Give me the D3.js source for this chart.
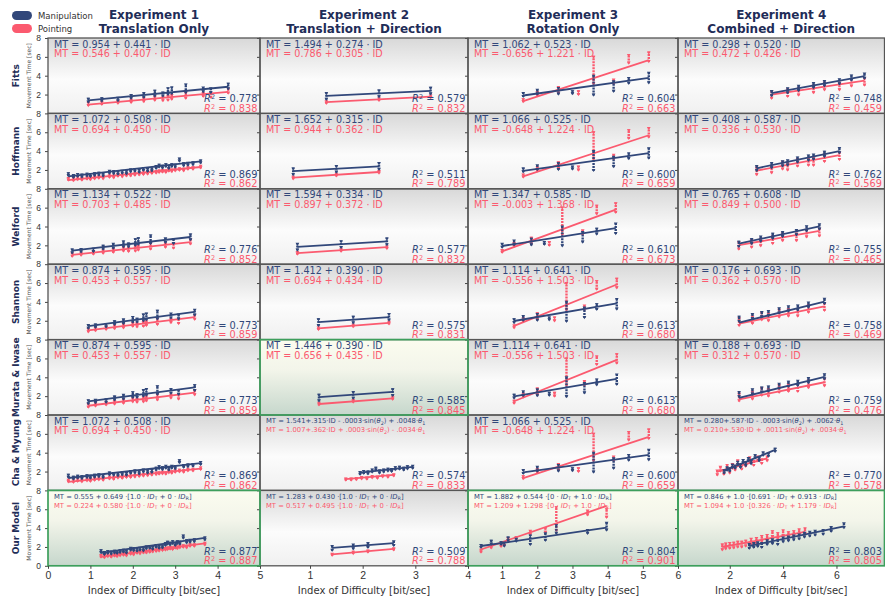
<!DOCTYPE html>
<html>
<head>
<meta charset="utf-8">
<script src="https://cdn.jsdelivr.net/npm/d3@7"></script>
<style>
  body { margin: 0; background: #fff; }
  svg { font-family: "DejaVu Sans", sans-serif; }
</style>
</head>
<body>
<div id="chart"></div>
<script>
// ---------- data ----------
const expTitles = ["Experiment 1", "Experiment 2", "Experiment 3", "Experiment 4"];
const expSubtitles = ["Translation Only", "Translation + Direction", "Rotation Only", "Combined + Direction"];
const models = ["Fitts", "Hoffmann", "Welford", "Shannon", "Murata & Iwase", "Cha & Myung", "Our Model"];
const seriesNames = ["Manipulation", "Pointing"];

const xDomains = [[0, 5], [0.05, 4], [0.03, 6], [0.06, 7.8]];
const xTicks = [[0, 1, 2, 3, 4, 5], [1, 2, 3, 4], [1, 2, 3, 4, 5, 6], [2, 4, 6]];
const yTicks = [2, 4, 6, 8];

// Experiment 1 (13 amplitude/width groups)
const e1Manip = [1.40, 1.48, 1.52, 1.80, 1.95, 2.15, 2.05, 2.35, 2.45, 2.65, 2.55, 2.45, 2.90];
const e1Point = [1.00, 1.10, 1.22, 1.33, 1.45, 1.60, 1.55, 1.65, 1.75, 1.90, 2.00, 1.95, 2.40];
const e1ManipSd = [0.15, 0.12, 0.12, 0.15, 0.2, 0.25, 0.15, 0.3, 0.3, 0.4, 0.2, 0.2, 0.25];
const e1PointSd = [0.12, 0.1, 0.1, 0.12, 0.15, 0.15, 0.15, 0.2, 0.2, 0.25, 0.15, 0.2, 0.2];
const fittsE1Id = [0.95, 1.27, 1.65, 1.96, 2.26, 2.52, 2.71, 2.83, 2.92, 3.25, 3.66, 3.84, 4.25];
const welfordE1Id = [0.57, 0.78, 1.07, 1.3, 1.54, 1.78, 1.9, 2.06, 2.13, 2.42, 2.77, 2.96, 3.36];
const shannonE1Id = [0.95, 1.12, 1.37, 1.57, 1.78, 2.0, 2.1, 2.25, 2.32, 2.58, 2.9, 3.08, 3.46];

// Experiment 1 with direction-dependent IDs (32 conditions)
const hoffE1Id = [0.48, 0.6, 0.7, 0.8, 0.92, 1.0, 1.1, 1.2, 1.3, 1.45, 1.55, 1.65, 1.75, 1.85, 1.95, 2.05,
  2.15, 2.25, 2.35, 2.45, 2.55, 2.62, 2.7, 2.78, 2.85, 2.92, 3.0, 3.1, 3.2, 3.3, 3.42, 3.6];
const ourE1Id = [1.25, 1.33, 1.41, 1.49, 1.57, 1.63, 1.7, 1.78, 1.85, 1.95, 2.02, 2.1, 2.17, 2.25, 2.32, 2.4,
  2.47, 2.55, 2.62, 2.7, 2.77, 2.82, 2.88, 2.94, 3.0, 3.05, 3.11, 3.19, 3.27, 3.35, 3.45, 3.7];
const hoffE1Manip = [1.55, 1.35, 1.45, 1.4, 1.5, 1.45, 1.55, 1.6, 1.5, 1.8, 1.75, 1.7, 1.8, 1.75, 1.95, 2.0,
  1.9, 2.1, 2.0, 2.05, 2.3, 2.45, 2.35, 2.5, 2.3, 2.5, 2.45, 3.1, 2.6, 2.65, 2.7, 2.9];
const hoffE1Point = [1.05, 1.0, 1.1, 1.05, 1.15, 1.1, 1.2, 1.25, 1.2, 1.35, 1.3, 1.45, 1.4, 1.5, 1.5, 1.55,
  1.6, 1.65, 1.7, 1.75, 1.8, 1.85, 1.9, 1.85, 2.0, 1.95, 2.05, 2.1, 2.05, 2.2, 2.2, 2.35];

// Experiment 2
const e2Manip = [1.85, 2.12, 2.42];
const e2Point = [1.2, 1.5, 1.8];
const fittsE2Id = [1.31, 2.31, 3.29];
const hoffE2Id = [0.68, 1.5, 2.31];
const welfordE2Id = [0.76, 1.59, 2.46];
const shannonE2Id = [1.16, 1.82, 2.5];
const murataE2Id = [1.17, 1.82, 2.57];
const ourE2Id = [1.42, 1.82, 2.1, 2.59];
const ourE2Manip = [1.9, 2.05, 2.2, 2.4];
const ourE2Point = [1.22, 1.42, 1.56, 1.8];
const chaE2ManipId = [1.95, 2.02, 2.1, 2.18, 2.25, 2.32, 2.4, 2.48, 2.55, 2.62, 2.7, 2.78, 2.85, 2.95];
const chaE2Manip = [1.85, 1.95, 1.9, 2.1, 2.3, 2.0, 2.1, 2.2, 2.15, 2.35, 2.4, 2.3, 2.45, 2.5];
const chaE2PointId = [1.68, 1.78, 1.88, 1.98, 2.08, 2.18, 2.28, 2.38, 2.48, 2.59];
const chaE2Point = [1.2, 1.2, 1.25, 1.35, 1.3, 1.45, 1.4, 1.55, 1.5, 1.65];

// Experiment 3
const e3Manip = [2.0, 2.3, 2.4, 2.25, 3.0, 2.9, 3.5, 3.8];
const e3ManipSd = [0.15, 0.2, 0.3, 0.1, 1.0, 0.5, 0.25, 0.5];
const e3Point = [1.4, 2.1, 2.5, 2.2, 4.6, 3.4, 5.8, 6.0];
const e3PointSd = [0.1, 0.15, 0.3, 0.15, 1.4, 0.2, 0.4, 0.45];
const fittsE3ManipId = [1.6, 2.0, 2.6, 3.0, 3.6, 4.17, 4.6, 5.17];
const fittsE3PointId = [1.6, 2.0, 2.6, 3.17, 3.6, 4.17, 4.6, 5.17];
const welfordE3ManipId = [1.0, 1.34, 1.83, 2.2, 2.71, 3.29, 3.69, 4.23];
const welfordE3PointId = [1.0, 1.34, 1.83, 2.34, 2.71, 3.29, 3.69, 4.23];
const shannonE3ManipId = [1.34, 1.6, 2.0, 2.34, 2.83, 3.34, 3.69, 4.26];
const shannonE3PointId = [1.34, 1.6, 2.0, 2.49, 2.83, 3.34, 3.69, 4.26];
const ourE3Id = [0.4, 0.69, 0.97, 1.06, 1.17, 1.4, 1.8, 2.23, 2.54, 3.43, 3.97];
const ourE3Manip = [2.1, 2.5, 2.4, 2.3, 2.85, 2.75, 2.75, 3.1, 3.9, 3.65, 4.2];
const ourE3ManipSd = [0.1, 0.15, 0.1, 0.15, 0.15, 0.1, 0.45, 0.35, 0.4, 0.15, 0.35];
const ourE3Point = [1.6, 2.05, 2.2, 2.3, 2.85, 2.95, 3.55, 3.8, 5.0, 5.65, 5.6];
const ourE3PointSd = [0.1, 0.1, 0.1, 0.1, 0.1, 0.1, 0.15, 0.2, 1.2, 0.2, 0.4];

// Experiment 4
const e4Manip8 = [2.15, 2.45, 2.7, 3.0, 3.2, 3.4, 3.8, 4.0];
const e4Point8 = [2.0, 2.2, 2.35, 2.6, 2.9, 2.9, 3.3, 3.4];
const e4Manip9 = [2.2, 2.5, 2.7, 2.8, 3.1, 3.3, 3.4, 3.7, 4.1];
const e4Point9 = [1.9, 2.1, 2.5, 2.4, 2.8, 2.9, 2.9, 3.3, 3.5];
const fittsE4Id = [3.57, 4.17, 4.58, 5.14, 5.55, 6.11, 6.56, 7.05];
const welfordE4Id = [2.34, 2.82, 3.16, 3.61, 3.98, 4.5, 4.88, 5.36];
const hoffE4Id = [3.01, 3.57, 3.98, 4.17, 4.54, 4.95, 5.14, 5.55, 6.11];
const shannonE4Id = [2.35, 2.85, 3.2, 3.45, 3.85, 4.2, 4.55, 4.95, 5.55];
const chaE4ManipId = [1.79, 1.9, 2.0, 2.1, 2.2, 2.3, 2.4, 2.5, 2.6, 2.7, 2.8, 2.95, 3.1, 3.25, 3.45, 3.7];
const chaE4Manip = [2.0, 2.3, 2.2, 2.6, 2.5, 2.9, 2.6, 3.1, 2.8, 3.3, 3.0, 3.6, 3.3, 3.9, 3.8, 4.3];
const chaE4PointId = [1.53, 1.65, 1.78, 1.9, 2.0, 2.1, 2.2, 2.3, 2.45, 2.6, 2.75, 2.9, 3.05, 3.2, 3.4];
const chaE4Point = [1.9, 2.3, 1.95, 2.5, 2.1, 2.6, 2.4, 3.0, 2.5, 2.8, 3.3, 2.9, 3.4, 3.1, 3.4];
const ourE4ManipId = [2.73, 2.9, 3.05, 3.2, 3.4, 3.6, 3.8, 4.0, 4.2, 4.4, 4.6, 4.8, 5.0, 5.2, 5.5, 5.8, 6.28];
const ourE4Manip = [2.1, 2.2, 2.3, 2.2, 2.5, 2.6, 2.5, 2.8, 2.9, 3.0, 3.1, 3.3, 3.4, 3.5, 3.6, 3.9, 4.3];
const ourE4PointId = [1.72, 1.85, 2.0, 2.15, 2.3, 2.45, 2.6, 2.8, 3.0, 3.2, 3.4, 3.6, 3.8, 4.0, 4.2, 4.4, 4.6, 4.82];
const ourE4Point = [2.0, 2.1, 2.15, 2.2, 2.3, 2.3, 2.4, 2.6, 2.7, 2.9, 3.0, 3.4, 3.2, 3.5, 3.3, 3.4, 3.6, 3.7];

// fitted lines [intercept, slope] as drawn in each panel (rows = models, cols = experiments)
const fitManip = [
  [[0.954, 0.441], [1.494, 0.274], [1.062, 0.523], [0.298, 0.520]],
  [[1.072, 0.508], [1.652, 0.315], [1.066, 0.525], [0.408, 0.587]],
  [[1.134, 0.522], [1.594, 0.334], [1.347, 0.585], [0.765, 0.608]],
  [[0.874, 0.595], [1.412, 0.390], [1.114, 0.641], [0.176, 0.693]],
  [[0.874, 0.595], [1.446, 0.390], [1.114, 0.641], [0.188, 0.693]],
  [[1.072, 0.508], [0.67, 0.62], [1.066, 0.525], [0.04, 1.15]],
  [[0.555, 0.649], [1.283, 0.430], [1.882, 0.544], [0.49, 0.59]]
];
const fitPoint = [
  [[0.546, 0.407], [0.786, 0.305], [-0.656, 1.221], [0.472, 0.426]],
  [[0.694, 0.450], [0.944, 0.362], [-0.648, 1.224], [0.336, 0.530]],
  [[0.703, 0.485], [0.897, 0.372], [-0.003, 1.368], [0.849, 0.500]],
  [[0.453, 0.557], [0.694, 0.434], [-0.556, 1.503], [0.362, 0.570]],
  [[0.453, 0.557], [0.656, 0.435], [-0.556, 1.503], [0.312, 0.570]],
  [[0.694, 0.450], [0.37, 0.49], [-0.648, 1.224], [0.84, 0.75]],
  [[0.224, 0.580], [0.517, 0.495], [1.209, 1.298], [1.1, 0.52]]
];

const eqManip = [
  ["MT = 0.954 + 0.441 · ID", "MT = 1.494 + 0.274 · ID", "MT = 1.062 + 0.523 · ID", "MT = 0.298 + 0.520 · ID"],
  ["MT = 1.072 + 0.508 · ID", "MT = 1.652 + 0.315 · ID", "MT = 1.066 + 0.525 · ID", "MT = 0.408 + 0.587 · ID"],
  ["MT = 1.134 + 0.522 · ID", "MT = 1.594 + 0.334 · ID", "MT = 1.347 + 0.585 · ID", "MT = 0.765 + 0.608 · ID"],
  ["MT = 0.874 + 0.595 · ID", "MT = 1.412 + 0.390 · ID", "MT = 1.114 + 0.641 · ID", "MT = 0.176 + 0.693 · ID"],
  ["MT = 0.874 + 0.595 · ID", "MT = 1.446 + 0.390 · ID", "MT = 1.114 + 0.641 · ID", "MT = 0.188 + 0.693 · ID"],
  ["MT = 1.072 + 0.508 · ID", "MT = 1.541+.315·ID - .0003·sin(θ_2) + .0048·θ_1", "MT = 1.066 + 0.525 · ID", "MT = 0.280+.587·ID - .0003·sin(θ_2) + .0062·θ_1"],
  ["MT = 0.555 + 0.649 ·[1.0 · ID_T + 0 · ID_R]", "MT = 1.283 + 0.430 ·[1.0 · ID_T + 0 · ID_R]", "MT = 1.882 + 0.544 ·[0 · ID_T + 1.0 · ID_R]", "MT = 0.846 + 1.0 ·[0.691 · ID_T + 0.913 · ID_R]"]
];
const eqPoint = [
  ["MT = 0.546 + 0.407 · ID", "MT = 0.786 + 0.305 · ID", "MT = -0.656 + 1.221 · ID", "MT = 0.472 + 0.426 · ID"],
  ["MT = 0.694 + 0.450 · ID", "MT = 0.944 + 0.362 · ID", "MT = -0.648 + 1.224 · ID", "MT = 0.336 + 0.530 · ID"],
  ["MT = 0.703 + 0.485 · ID", "MT = 0.897 + 0.372 · ID", "MT = -0.003 + 1.368 · ID", "MT = 0.849 + 0.500 · ID"],
  ["MT = 0.453 + 0.557 · ID", "MT = 0.694 + 0.434 · ID", "MT = -0.556 + 1.503 · ID", "MT = 0.362 + 0.570 · ID"],
  ["MT = 0.453 + 0.557 · ID", "MT = 0.656 + 0.435 · ID", "MT = -0.556 + 1.503 · ID", "MT = 0.312 + 0.570 · ID"],
  ["MT = 0.694 + 0.450 · ID", "MT = 1.007+.362·ID + .0003·sin(θ_2) - .0034·θ_1", "MT = -0.648 + 1.224 · ID", "MT = 0.210+.530·ID + .0011·sin(θ_2) + .0034·θ_1"],
  ["MT = 0.224 + 0.580 ·[1.0 · ID_T + 0 · ID_R]", "MT = 0.517 + 0.495 ·[1.0 · ID_T + 0 · ID_R]", "MT = 1.209 + 1.298 ·[0 · ID_T + 1.0 · ID_R]", "MT = 1.094 + 1.0 ·[0.326 · ID_T + 1.179 · ID_R]"]
];
const r2Manip = [
  ["0.778", "0.579", "0.604", "0.748"],
  ["0.869", "0.511", "0.600", "0.762"],
  ["0.776", "0.577", "0.610", "0.755"],
  ["0.773", "0.575", "0.613", "0.758"],
  ["0.773", "0.585", "0.613", "0.759"],
  ["0.869", "0.574", "0.600", "0.770"],
  ["0.877", "0.509", "0.804", "0.803"]
];
const r2Point = [
  ["0.838", "0.832", "0.663", "0.459"],
  ["0.862", "0.789", "0.659", "0.569"],
  ["0.852", "0.832", "0.673", "0.465"],
  ["0.859", "0.831", "0.680", "0.469"],
  ["0.859", "0.845", "0.680", "0.476"],
  ["0.862", "0.833", "0.659", "0.578"],
  ["0.887", "0.788", "0.901", "0.805"]
];
// best-fitting panels, outlined in green  [row, col]
const highlighted = [[4, 1], [6, 0], [6, 2], [6, 3]];

// ---------- layout ----------
const width = 885, height = 597;
const colEdges = [48, 260, 468, 678, 884.5];
const gridTop = 38, rowH = 75.4;
const MANIP = "#31477a", POINT = "#fb5a6f", NAVY = "#1f2d58";

function series(ids, mts, sds) {
  return ids.map((id, i) => ({ id, mt: mts[i], sd: Array.isArray(sds) ? sds[i] : sds }));
}

const panelData = [
  [
    [series(fittsE1Id, e1Manip, e1ManipSd), series(fittsE1Id, e1Point, e1PointSd)],
    [series(fittsE2Id, e2Manip, 0.3), series(fittsE2Id, e2Point, 0.08)],
    [series(fittsE3ManipId, e3Manip, e3ManipSd), series(fittsE3PointId, e3Point, e3PointSd)],
    [series(fittsE4Id, e4Manip8, 0.22), series(fittsE4Id, e4Point8, 0.35)]
  ],
  [
    [series(hoffE1Id, hoffE1Manip, 0.1), series(hoffE1Id, hoffE1Point, 0.08)],
    [series(hoffE2Id, e2Manip, 0.3), series(hoffE2Id, e2Point, 0.08)],
    [series(fittsE3ManipId, e3Manip, e3ManipSd), series(fittsE3PointId, e3Point, e3PointSd)],
    [series(hoffE4Id, e4Manip9, 0.22), series(hoffE4Id, e4Point9, 0.35)]
  ],
  [
    [series(welfordE1Id, e1Manip, e1ManipSd), series(welfordE1Id, e1Point, e1PointSd)],
    [series(welfordE2Id, e2Manip, 0.3), series(welfordE2Id, e2Point, 0.08)],
    [series(welfordE3ManipId, e3Manip, e3ManipSd), series(welfordE3PointId, e3Point, e3PointSd)],
    [series(welfordE4Id, e4Manip8, 0.22), series(welfordE4Id, e4Point8, 0.35)]
  ],
  [
    [series(shannonE1Id, e1Manip, e1ManipSd), series(shannonE1Id, e1Point, e1PointSd)],
    [series(shannonE2Id, e2Manip, 0.3), series(shannonE2Id, e2Point, 0.08)],
    [series(shannonE3ManipId, e3Manip, e3ManipSd), series(shannonE3PointId, e3Point, e3PointSd)],
    [series(shannonE4Id, e4Manip9, 0.22), series(shannonE4Id, e4Point9, 0.35)]
  ],
  [
    [series(shannonE1Id, e1Manip, e1ManipSd), series(shannonE1Id, e1Point, e1PointSd)],
    [series(murataE2Id, e2Manip, 0.3), series(murataE2Id, e2Point, 0.08)],
    [series(shannonE3ManipId, e3Manip, e3ManipSd), series(shannonE3PointId, e3Point, e3PointSd)],
    [series(shannonE4Id, e4Manip9, 0.22), series(shannonE4Id, e4Point9, 0.35)]
  ],
  [
    [series(hoffE1Id, hoffE1Manip, 0.1), series(hoffE1Id, hoffE1Point, 0.08)],
    [series(chaE2ManipId, chaE2Manip, 0.1), series(chaE2PointId, chaE2Point, 0.06)],
    [series(fittsE3ManipId, e3Manip, e3ManipSd), series(fittsE3PointId, e3Point, e3PointSd)],
    [series(chaE4ManipId, chaE4Manip, 0.12), series(chaE4PointId, chaE4Point, 0.2)]
  ],
  [
    [series(ourE1Id, hoffE1Manip, 0.1), series(ourE1Id, hoffE1Point, 0.08)],
    [series(ourE2Id, ourE2Manip, 0.2), series(ourE2Id, ourE2Point, 0.06)],
    [series(ourE3Id, ourE3Manip, ourE3ManipSd), series(ourE3Id, ourE3Point, ourE3PointSd)],
    [series(ourE4ManipId, ourE4Manip, 0.2), series(ourE4PointId, ourE4Point, 0.25)]
  ]
];

// ---------- drawing ----------
const svg = d3.select("#chart").append("svg")
  .attr("width", width)
  .attr("height", height);

const defs = svg.append("defs");
function addGradient(id, stops) {
  const g = defs.append("linearGradient").attr("id", id)
    .attr("x1", 0).attr("y1", 0).attr("x2", 0).attr("y2", 1);
  stops.forEach(([o, c]) => g.append("stop").attr("offset", o).attr("stop-color", c));
}
addGradient("bgGray", [["0%", "#d8d8d8"], ["55%", "#fcfcfc"], ["100%", "#f0f0f0"]]);
addGradient("bgGreen", [["0%", "#fbfcef"], ["40%", "#f3f5ea"], ["100%", "#c6d7cc"]]);

const isGreen = (r, c) => highlighted.some(([hr, hc]) => hr === r && hc === c);

const xScales = xDomains.map((dom, c) =>
  d3.scaleLinear().domain(dom).range([colEdges[c], colEdges[c + 1]]));
const yScales = models.map((m, r) =>
  d3.scaleLinear().domain([0, 8]).range([gridTop + (r + 1) * rowH, gridTop + r * rowH]));

const tri = d3.symbol().type(d3.symbolTriangle).size(6);

// adds text with "ID_T" / "θ_2" style subscripts
function richText(sel, str) {
  const re = /(ID|θ)_(\w)/g;
  let last = 0, m, shift = 0;
  const plain = (t) => {
    const ts = sel.append("tspan").text(t);
    if (shift) { ts.attr("dy", -shift); shift = 0; }
  };
  while ((m = re.exec(str))) {
    if (m.index > last) plain(str.slice(last, m.index));
    const it = sel.append("tspan").style("font-style", "italic").text(m[1]);
    if (shift) { it.attr("dy", -shift); shift = 0; }
    sel.append("tspan").attr("dy", 1.5).style("font-size", "72%").text(m[2]);
    shift = 1.5;
    last = re.lastIndex;
  }
  if (last < str.length) plain(str.slice(last));
}

function r2Text(g, x, y, value, color) {
  const t = g.append("text").attr("x", x).attr("y", y)
    .attr("text-anchor", "end").attr("fill", color).style("font-size", "9.8px");
  t.append("tspan").style("font-style", "italic").text("R");
  t.append("tspan").attr("dy", -3).style("font-size", "66%").text("2");
  t.append("tspan").attr("dy", 3).text(" = " + value);
}

models.forEach((model, r) => {
  const y = yScales[r];
  const top = y(8), bottom = y(0);
  expTitles.forEach((exp, c) => {
    const x = xScales[c];
    const left = colEdges[c], right = colEdges[c + 1];
    const green = isGreen(r, c);
    const g = svg.append("g").attr("class", "panel");
    const clipId = `clip-${r}-${c}`;
    defs.append("clipPath").attr("id", clipId).append("rect")
      .attr("x", left).attr("y", top).attr("width", right - left).attr("height", bottom - top);

    g.append("rect")
      .attr("x", left).attr("y", top)
      .attr("width", right - left).attr("height", bottom - top)
      .attr("fill", green ? "url(#bgGreen)" : "url(#bgGray)");

    const plot = g.append("g").attr("clip-path", `url(#${clipId})`);
    const [manip, point] = panelData[r][c];
    const layers = [
      { data: point, fit: fitPoint[r][c], color: POINT },
      { data: manip, fit: fitManip[r][c], color: MANIP }
    ];
    layers.forEach((L) => {
      // spread of trials at each condition, drawn as a stack of small markers
      plot.selectAll(null).data(L.data).join("line")
        .attr("x1", (d) => x(d.id)).attr("x2", (d) => x(d.id))
        .attr("y1", (d) => y(d.mt - d.sd) + 1).attr("y2", (d) => y(d.mt + d.sd) - 1)
        .attr("stroke", L.color).attr("stroke-width", 2.4)
        .attr("stroke-dasharray", "2,1");
      const marks = L.data.flatMap((d) => [d.mt - d.sd, d.mt + d.sd].map((v) => ({ id: d.id, v })));
      plot.selectAll(null).data(marks).join("path")
        .attr("d", tri)
        .attr("transform", (d) => `translate(${x(d.id)},${y(d.v)}) rotate(180)`)
        .attr("fill", L.color);
      const [a, b] = L.fit;
      const ext = d3.extent(L.data, (d) => d.id);
      plot.append("line")
        .attr("x1", x(ext[0])).attr("y1", y(a + b * ext[0]))
        .attr("x2", x(ext[1])).attr("y2", y(a + b * ext[1]))
        .attr("stroke", L.color).attr("stroke-width", 1.8);
    });

    // equations
    const small = eqManip[r][c].length > 26;
    const fs = small ? 6.8 : 9.6;
    const e1 = g.append("text").attr("x", left + 6).attr("y", top + (small ? 8.3 : 9.6))
      .attr("fill", MANIP).style("font-size", fs + "px");
    richText(e1, eqManip[r][c]);
    const e2 = g.append("text").attr("x", left + 6).attr("y", top + (small ? 17.3 : 19.4))
      .attr("fill", POINT).style("font-size", fs + "px");
    richText(e2, eqPoint[r][c]);

    r2Text(g, right - 2.5, bottom - 11, r2Manip[r][c], MANIP);
    r2Text(g, right - 2.5, bottom - 1.5, r2Point[r][c], POINT);

    // y ticks (labels only in first column)
    const axisY = svg.append("g")
      .attr("transform", `translate(${left},0)`)
      .call(d3.axisLeft(y).tickValues(r === models.length - 1 ? [0, ...yTicks] : yTicks)
        .tickSize(3).tickSizeOuter(0).tickFormat(c === 0 ? d3.format("d") : ""));
    axisY.select(".domain").remove();
    axisY.selectAll("line").attr("stroke", "#444");
    axisY.selectAll("text").attr("fill", "#333").style("font-size", "8.5px").attr("dx", "-1");
  });
});

// panel borders, grey first then highlighted green on top
const cells = models.flatMap((m, r) => expTitles.map((e, c) => ({ r, c })));
svg.append("g").selectAll("rect").data(cells.filter((d) => !isGreen(d.r, d.c))).join("rect")
  .attr("x", (d) => colEdges[d.c]).attr("y", (d) => yScales[d.r](8))
  .attr("width", (d) => colEdges[d.c + 1] - colEdges[d.c]).attr("height", rowH)
  .attr("fill", "none").attr("stroke", "#555").attr("stroke-width", 1.3);
svg.append("g").selectAll("rect").data(cells.filter((d) => isGreen(d.r, d.c))).join("rect")
  .attr("x", (d) => colEdges[d.c]).attr("y", (d) => yScales[d.r](8))
  .attr("width", (d) => colEdges[d.c + 1] - colEdges[d.c]).attr("height", rowH)
  .attr("fill", "none").attr("stroke", "#3d9f5c").attr("stroke-width", 1.7);

// x axes
const gridBottom = gridTop + models.length * rowH;
xScales.forEach((x, c) => {
  const ax = svg.append("g")
    .attr("transform", `translate(0,${gridBottom})`)
    .call(d3.axisBottom(x).tickValues(xTicks[c]).tickSize(3).tickSizeOuter(0).tickFormat(d3.format("d")));
  ax.select(".domain").remove();
  ax.selectAll("line").attr("stroke", "#444");
  ax.selectAll("text").attr("fill", "#333").style("font-size", "10.5px");
  svg.append("text")
    .attr("x", (colEdges[c] + colEdges[c + 1]) / 2)
    .attr("y", 594)
    .attr("text-anchor", "middle")
    .attr("fill", "#333")
    .style("font-size", "10px")
    .text("Index of Difficulty [bit/sec]");
});

// row labels
models.forEach((model, r) => {
  const cy = gridTop + (r + 0.5) * rowH;
  svg.append("text")
    .attr("transform", `translate(19,${cy}) rotate(-90)`)
    .attr("text-anchor", "middle")
    .attr("fill", NAVY)
    .style("font-size", "9px")
    .style("font-weight", "bold")
    .text(model);
  svg.append("text")
    .attr("transform", `translate(31,${cy}) rotate(-90)`)
    .attr("text-anchor", "middle")
    .attr("fill", "#555")
    .style("font-size", "6px")
    .text("Movement Time [sec]");
});

// column titles
expTitles.forEach((t, c) => {
  const cx = (colEdges[c] + colEdges[c + 1]) / 2;
  svg.append("text").attr("x", cx).attr("y", 19)
    .attr("text-anchor", "middle").attr("fill", NAVY)
    .style("font-size", "12px").style("font-weight", "bold").text(t);
  svg.append("text").attr("x", cx).attr("y", 33.2)
    .attr("text-anchor", "middle").attr("fill", NAVY)
    .style("font-size", "12px").style("font-weight", "bold").text(expSubtitles[c]);
});

// legend
const legend = svg.append("g").attr("transform", "translate(12,11)");
seriesNames.forEach((name, i) => {
  legend.append("rect")
    .attr("x", 0).attr("y", i * 13)
    .attr("width", 20).attr("height", 9).attr("rx", 4.5)
    .attr("fill", i === 0 ? MANIP : POINT);
  legend.append("text")
    .attr("x", 26).attr("y", i * 13 + 7.5)
    .attr("fill", "#333").style("font-size", "8.5px")
    .text(name);
});
</script>
</body>
</html>
